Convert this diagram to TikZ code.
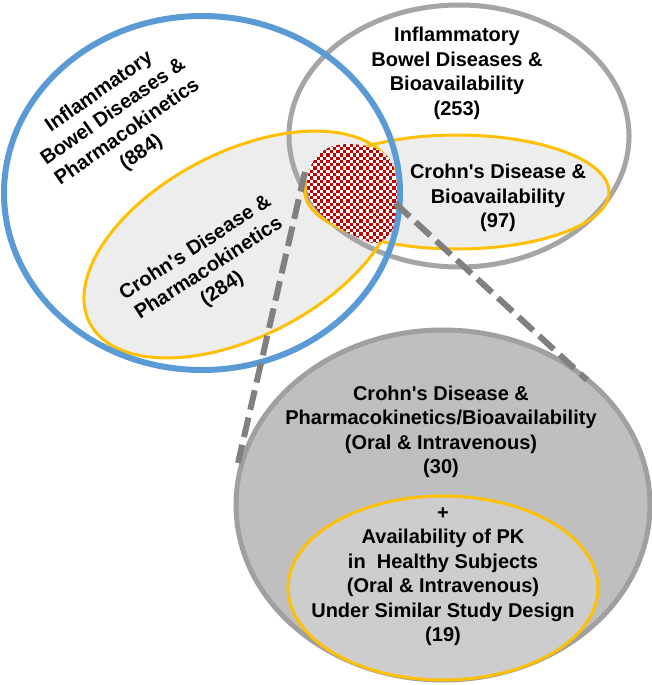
\documentclass[tikz,border=0pt]{standalone}
\usepackage{fontspec}
\setmainfont{Liberation Sans}
\definecolor{bluec}{RGB}{91,155,213}
\definecolor{yellowc}{RGB}{255,192,0}
\definecolor{grayring}{RGB}{165,165,165}
\definecolor{lightfill}{RGB}{237,237,237}
\definecolor{bigfill}{RGB}{191,191,191}
\definecolor{bigborder}{RGB}{160,160,160}
\definecolor{innerfill}{RGB}{205,205,205}
\definecolor{dashc}{RGB}{128,128,128}
\definecolor{checkred}{RGB}{192,0,0}
\begin{document}
\begin{tikzpicture}[x=1pt,y=-1pt,
  lbl/.style={font=\fontsize{20}{24.5}\selectfont\bfseries, align=center, inner sep=0pt},
  yring/.style={draw=yellowc, line width=3pt},
  dashconn/.style={draw=dashc, line width=6pt, dash pattern=on 20pt off 8pt}]
\useasboundingbox (0,0) rectangle (652,685);
% coordinates
\coordinate (cl) at (241,244.5);
\coordinate (cr) at (457,192);
\coordinate (cg) at (459,136);
\coordinate (cb) at (202,193);
\coordinate (cbig) at (443,505);
\coordinate (cin) at (443,588);
% yellow fills
\fill[lightfill, rotate around={27.5:(cl)}] (cl) ellipse [x radius=170.4pt, y radius=92.1pt];
\fill[lightfill] (cr) ellipse [x radius=152pt, y radius=57pt];
% gray ring
\draw[grayring, line width=5pt] (cg) ellipse [x radius=170pt, y radius=131pt];
% yellow borders
\draw[yring, rotate around={27.5:(cl)}] (cl) ellipse [x radius=170.4pt, y radius=92.1pt];
\draw[yring] (cr) ellipse [x radius=152pt, y radius=57pt];
% checker overlap
\begin{scope}
\clip plot[smooth cycle, tension=0.6] coordinates {(307,180) (314,160) (328,148) (347,144) (366,146) (381,151) (392,163) (397,185) (398,207) (394,226) (386,238) (374,243) (357,237) (336,226) (318,211) (309,196)};
\fill[white] (300,140) rectangle (402,250);
\foreach \i in {0,...,15}{
  \foreach \j in {0,...,16}{
    \fill[checkred] ({300+6.6*\i},{140+6.6*\j}) rectangle ++(3.3,3.3);
    \fill[checkred] ({303.3+6.6*\i},{143.3+6.6*\j}) rectangle ++(3.3,3.3);
  }
}
\end{scope}
% blue ring
\draw[bluec, line width=6pt] (cb) ellipse [x radius=198pt, y radius=177pt];
% big circle
\draw[fill=bigfill, draw=bigborder, line width=5pt] (cbig) ellipse [x radius=207pt, y radius=175pt];
\draw[fill=innerfill, yring] (cin) ellipse [x radius=155pt, y radius=92pt];
% dashed connectors
\coordinate (d1a) at (305,172);
\coordinate (d1b) at (238,463);
\coordinate (d2a) at (395,203);
\coordinate (d2b) at (587,380);
\draw[dashconn] (d1a) -- (d1b);
\draw[dashconn] (d2a) -- (d2b);
% labels
\node[lbl, rotate=35] (t1) at (120.5,122.5) {Inflammatory\\Bowel Diseases \&\\Pharmacokinetics\\(884)};
\node[lbl] (t2) at (457,73.5) {Inflammatory\\Bowel Diseases \&\\Bioavailability\\(253)};
\node[lbl, rotate=33] (t3) at (209,269) {Crohn\textquotesingle s Disease \&\\Pharmacokinetics\\(284)};
\node[lbl] (t4) at (498,198) {Crohn\textquotesingle s Disease \&\\Bioavailability\\(97)};
\node[lbl] (t5) at (441,432) {Crohn\textquotesingle s Disease \&\\Pharmacokinetics/Bioavailability\\(Oral \& Intravenous)\\(30)};
\node[lbl] (t6) at (443,576.5) {+\\Availability of PK\\in\ \ Healthy Subjects\\ (Oral \& Intravenous)\\Under Similar Study Design\\(19)};
\end{tikzpicture}
\end{document}
